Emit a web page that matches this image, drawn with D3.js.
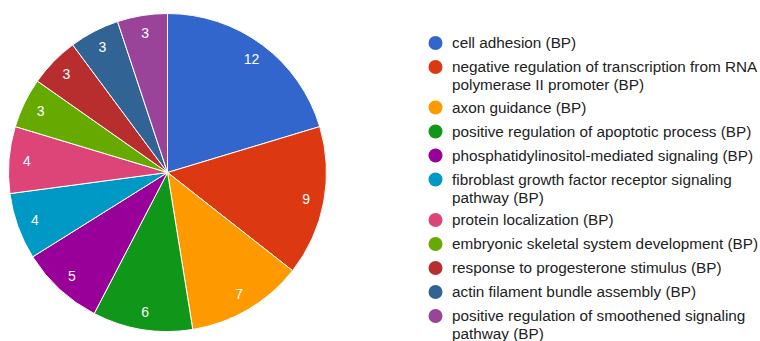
<!DOCTYPE html>
<html>
<head>
<meta charset="utf-8">
<script src="https://cdn.jsdelivr.net/npm/d3@7"></script>
<style>
  html, body { margin: 0; padding: 0; background: #ffffff; }
  svg { display: block; }
</style>
</head>
<body>
<svg id="chart" width="760" height="341"></svg>
<script>
// GO biological process terms and their gene counts
const categories = [
  "cell adhesion (BP)",
  "negative regulation of transcription from RNA polymerase II promoter (BP)",
  "axon guidance (BP)",
  "positive regulation of apoptotic process (BP)",
  "phosphatidylinositol-mediated signaling (BP)",
  "fibroblast growth factor receptor signaling pathway (BP)",
  "protein localization (BP)",
  "embryonic skeletal system development (BP)",
  "response to progesterone stimulus (BP)",
  "actin filament bundle assembly (BP)",
  "positive regulation of smoothened signaling pathway (BP)"
];
const values = [12, 9, 7, 6, 5, 4, 4, 3, 3, 3, 3];
const colors = [
  "#3366cc", "#dc3912", "#ff9900", "#109618", "#990099", "#0099c6",
  "#dd4477", "#66aa00", "#b82e2e", "#316395", "#994499"
];

const svg = d3.select("#chart");
const cx = 167.5, cy = 172.5, radius = 159;

const color = d3.scaleOrdinal().domain(categories).range(colors);

const data = categories.map((c, i) => ({ name: c, value: values[i] }));
const pie = d3.pie().sort(null).value(d => d.value);
const arcs = pie(data);

const arc = d3.arc().innerRadius(0).outerRadius(radius);
const labelArc = d3.arc().innerRadius(141).outerRadius(141);

const g = svg.append("g").attr("transform", `translate(${cx},${cy})`);

g.selectAll("path.slice")
  .data(arcs)
  .join("path")
  .attr("class", "slice")
  .attr("d", arc)
  .attr("fill", d => color(d.data.name))
  .attr("stroke", "#ffffff")
  .attr("stroke-width", 1);

g.selectAll("text.value")
  .data(arcs)
  .join("text")
  .attr("class", "value")
  .attr("transform", d => `translate(${labelArc.centroid(d)})`)
  .attr("text-anchor", "middle")
  .attr("dy", "0.35em")
  .attr("font-family", "Liberation Sans, Arial, sans-serif")
  .attr("font-size", 14)
  .attr("fill", "#ffffff")
  .text(d => d.data.value);

// Legend with word-wrapped entries
const legend = svg.append("g").attr("class", "legend");
const legendX = 435.5, textX = 452, maxWidth = 312;
const lineH = 18, itemGap = 24;
let y = 43;

categories.forEach((name, i) => {
  const item = legend.append("g");
  item.append("circle")
    .attr("cx", legendX)
    .attr("cy", y)
    .attr("r", 7)
    .attr("fill", color(name));

  const text = item.append("text")
    .attr("font-family", "Liberation Sans, Arial, sans-serif")
    .attr("font-size", 15.3)
    .attr("fill", "#222222");

  const words = name.split(" ");
  let line = [];
  let lineNo = 0;
  let tspan = text.append("tspan").attr("x", textX).attr("y", y).attr("dy", "0.35em");
  words.forEach(w => {
    line.push(w);
    tspan.text(line.join(" "));
    if (tspan.node().getComputedTextLength() > maxWidth && line.length > 1) {
      line.pop();
      tspan.text(line.join(" "));
      line = [w];
      lineNo++;
      tspan = text.append("tspan")
        .attr("x", textX)
        .attr("y", y + lineNo * lineH)
        .attr("dy", "0.35em")
        .text(w);
    }
  });
  y += itemGap + lineNo * (lineH - 1.5);
});
</script>
</body>
</html>
